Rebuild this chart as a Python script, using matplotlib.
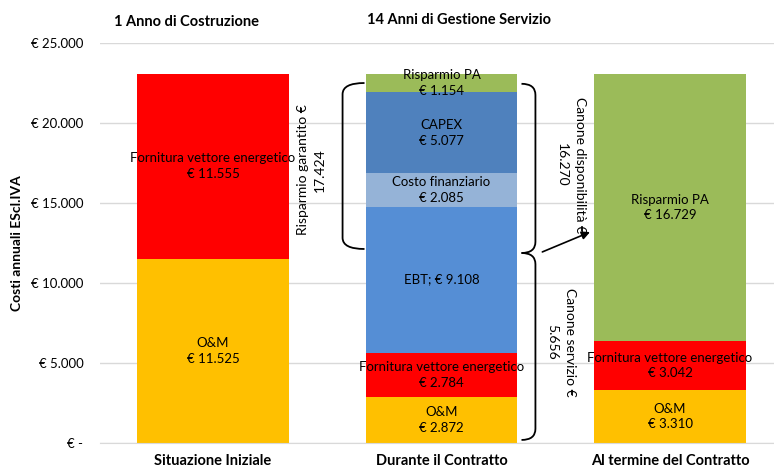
import matplotlib
matplotlib.use('Agg')
import matplotlib.pyplot as plt
from matplotlib.path import Path
from matplotlib.patches import PathPatch

plt.rcParams['font.family'] = ['Lato', 'DejaVu Sans']

# Dati
categorie = ['Situazione Iniziale', 'Durante il Contratto', 'Al termine del Contratto']

voci_iniziale = ['O&M', 'Fornitura vettore energetico']
valori_iniziale = [11525, 11555]

voci_contratto = ['O&M', 'Fornitura vettore energetico', 'EBT', 'Costo finanziario', 'CAPEX', 'Risparmio PA']
valori_contratto = [2872, 2784, 9108, 2085, 5077, 1154]

voci_termine = ['O&M', 'Fornitura vettore energetico', 'Risparmio PA']
valori_termine = [3310, 3042, 16729]

fasi = ['1 Anno di Costruzione', '14 Anni di Gestione Servizio']
graffe = ['Risparmio garantito €\n17.424', 'Canone disponibilità €\n16.270', 'Canone servizio €\n5.656']

colori = {
    'O&M': '#FFC000',
    'Fornitura vettore energetico': '#FF0000',
    'EBT': '#558ED5',
    'Costo finanziario': '#95B3D7',
    'CAPEX': '#4F81BD',
    'Risparmio PA': '#9BBB59',
}


def euro(v):
    return '€ ' + f'{v:,}'.replace(',', '.')


fig = plt.figure(figsize=(7.74, 4.70), dpi=100)
ax = fig.add_axes([100 / 774, 27 / 470, 674 / 774, 400 / 470])

larghezza = 0.665
for i, (voci, valori) in enumerate([(voci_iniziale, valori_iniziale),
                                     (voci_contratto, valori_contratto),
                                     (voci_termine, valori_termine)]):
    base = 0
    for voce, v in zip(voci, valori):
        ax.bar(i, v, bottom=base, width=larghezza, color=colori[voce], zorder=2)
        if voce == 'EBT':
            testo = 'EBT; ' + euro(v)
        else:
            testo = voce + '\n' + euro(v)
        ax.text(i, base + v / 2, testo, ha='center', va='center', fontsize=9.5,
                linespacing=1.35, zorder=3)
        base += v

# Assi
ax.set_ylim(0, 25000)
ax.set_xlim(-0.4945, 2.455)
ax.set_yticks(range(0, 25001, 5000))
ax.set_yticklabels(['€ -'] + [euro(v) for v in range(5000, 25001, 5000)], fontsize=9.5)
ax.set_xticks(range(len(categorie)))
ax.set_xticklabels(categorie, fontsize=10.5, fontweight='bold')
ax.tick_params(axis='y', length=0, pad=12)
ax.tick_params(axis='x', length=0, pad=8)
ax.grid(axis='y', color='#D9D9D9', linewidth=1, zorder=0)
for s in ['top', 'right', 'left']:
    ax.spines[s].set_visible(False)
ax.spines['bottom'].set_color('#D9D9D9')

fig.text(17 / 774, 1 - 243 / 470, 'Costi annuali EScl.IVA', rotation=90,
         ha='center', va='center', fontsize=10, fontweight='bold')
fig.text(187 / 774, 1 - 22 / 470, fasi[0], ha='center', va='center', fontsize=10.5, fontweight='bold')
fig.text(459 / 774, 1 - 20 / 470, fasi[1], ha='center', va='center', fontsize=10.5, fontweight='bold')


# Parentesi
def parentesi(x_end, x_vert, y_top, y_bot, dy):
    verts = [(x_end, y_top), (x_vert, y_top), (x_vert, y_top - dy),
             (x_vert, y_bot + dy), (x_vert, y_bot), (x_end, y_bot)]
    codes = [Path.MOVETO, Path.CURVE3, Path.CURVE3, Path.LINETO, Path.CURVE3, Path.CURVE3]
    ax.add_patch(PathPatch(Path(verts, codes), fill=False, edgecolor='black', lw=1.3, zorder=4))


parentesi(0.663, 0.567, 22500, 12125, 700)
parentesi(1.35, 1.411, 22450, 11875, 700)
parentesi(1.35, 1.411, 11875, 190, 700)

ax.annotate('', xy=(1.661, 13250), xytext=(1.43, 11875),
            arrowprops=dict(arrowstyle='-|>', color='black', lw=1.2, mutation_scale=12))

ax.text(0.431, 17060, graffe[0], rotation=90, ha='center', va='center',
        fontsize=10, multialignment='center', linespacing=1.4)
ax.text(1.565, 17370, graffe[1], rotation=270, ha='center', va='center',
        fontsize=10, multialignment='center', linespacing=1.6)
ax.text(1.525, 6310, graffe[2], rotation=270, ha='center', va='center',
        fontsize=10, multialignment='center', linespacing=1.6)

fig.savefig('out.png', dpi=100)
